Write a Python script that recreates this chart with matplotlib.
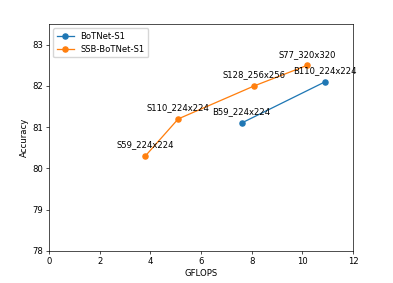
import matplotlib
matplotlib.use("Agg")
import matplotlib.pyplot as plt

s = 0.614  # scale from the default 640x480 look

bot_x = [7.6, 10.9]
bot_y = [81.1, 82.1]
bot_labels = ["B59_224x224", "B110_224x224"]

ssb_x = [3.8, 5.1, 8.1, 10.2]
ssb_y = [80.3, 81.2, 82.0, 82.5]
ssb_labels = ["S59_224x224", "S110_224x224", "S128_256x256", "S77_320x320"]

plt.rcParams.update({
    "font.size": 10 * s,
    "lines.linewidth": 1.5 * s,
    "lines.markersize": 6 * s,
    "axes.linewidth": 0.8 * s,
    "xtick.major.width": 0.8 * s,
    "ytick.major.width": 0.8 * s,
    "xtick.major.size": 3.5 * s,
    "ytick.major.size": 3.5 * s,
    "xtick.major.pad": 3.5 * s,
    "ytick.major.pad": 3.5 * s,
    "axes.labelpad": 4 * s,
})

fig = plt.figure(figsize=(3.93, 2.83), dpi=100)
ax = fig.add_axes([49 / 393, 1 - 251 / 283, 304 / 393, 227 / 283])

ax.plot(bot_x, bot_y, "o-", label="BoTNet-S1")
ax.plot(ssb_x, ssb_y, "o-", label="SSB-BoTNet-S1")

for x, y, t in zip(bot_x, bot_y, bot_labels):
    ax.annotate(t, (x, y), xytext=(0, 10 * s), textcoords="offset points", ha="center")
for x, y, t in zip(ssb_x, ssb_y, ssb_labels):
    ax.annotate(t, (x, y), xytext=(0, 10 * s), textcoords="offset points", ha="center")

ax.set_xlim(0, 12)
ax.set_ylim(78, 83.5)
ax.set_xlabel("GFLOPS")
ax.set_ylabel("Accuracy")
ax.legend(loc="upper left")

fig.savefig("out.png", dpi=100)
